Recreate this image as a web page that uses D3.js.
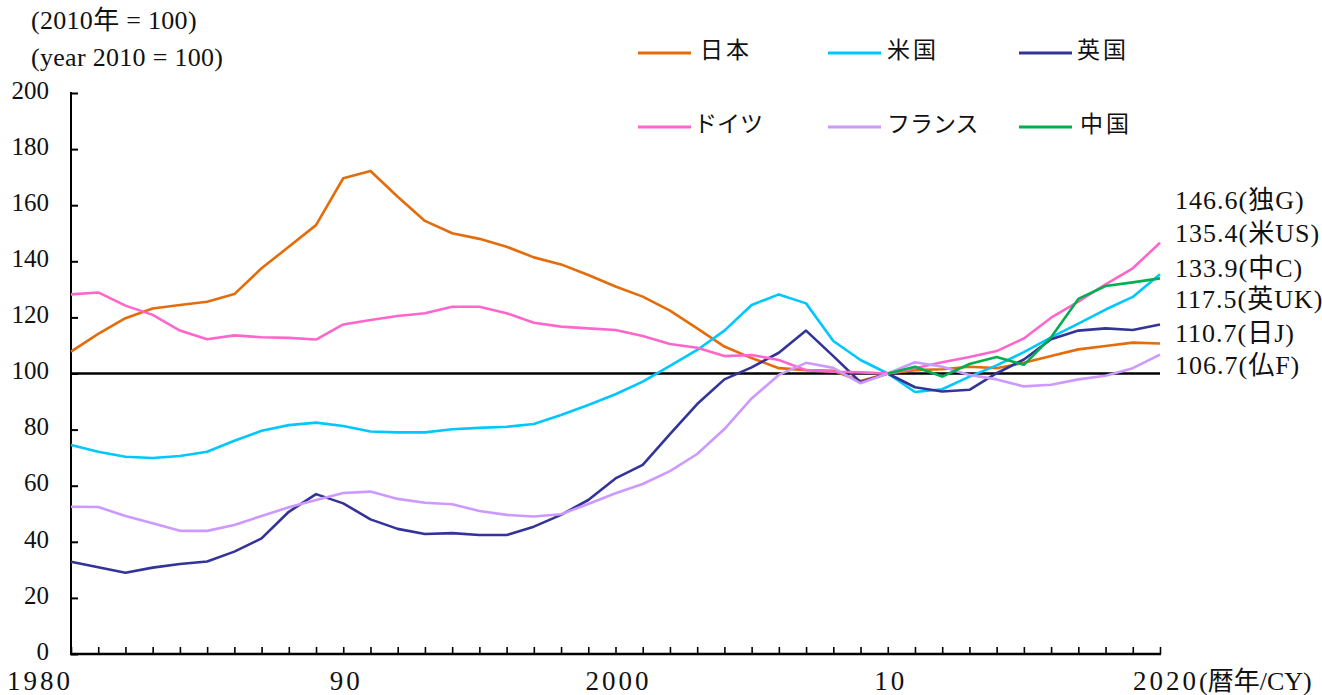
<!DOCTYPE html>
<html>
<head>
<meta charset="utf-8">
<script src="https://cdn.jsdelivr.net/npm/d3@7"></script>
<style>
  html, body { margin: 0; padding: 0; background: #fff; }
  svg { display: block; }
  text { font-family: "Liberation Serif", "Noto Sans CJK JP", serif; fill: #111; }
</style>
</head>
<body>
<svg id="chart" width="1322" height="695"></svg>
<script>
const years = d3.range(1980, 2021);
const japan = [107.8,114.1,119.7,123.2,124.4,125.6,128.3,137.5,145.2,152.9,
  169.6,172.2,163.0,154.4,150.0,148.0,145.2,141.4,138.9,135.1,
  131.0,127.4,122.4,116.1,109.6,105.5,101.9,101.2,101.0,97.3,
  100,101.2,101.5,102.4,101.9,103.8,106.2,108.6,109.8,111.0,110.7];
const us = [74.5,72.1,70.3,69.9,70.6,72.1,76.0,79.6,81.6,82.5,
  81.3,79.3,79.0,79.0,80.1,80.6,81.0,82.0,85.2,88.8,
  92.6,97.1,102.7,108.4,115.3,124.4,128.2,125.0,111.6,104.8,
  100,93.4,94.4,98.9,102.9,107.6,112.9,117.8,122.8,127.3,135.4];
const uk = [32.9,30.9,29.0,30.8,32.1,33.0,36.5,41.2,50.7,57.0,
  53.7,48.0,44.6,42.8,43.1,42.4,42.4,45.4,49.6,54.9,
  62.6,67.4,78.4,89.1,97.9,102.2,107.4,115.3,106.2,96.9,
  100,95.1,93.6,94.2,100.1,105.0,112.2,115.3,116.1,115.5,117.5];
const germany = [128.2,128.9,124.2,120.9,115.3,112.2,113.6,112.9,112.7,112.1,
  117.5,119.1,120.5,121.5,123.8,123.8,121.5,118.1,116.7,116.1,
  115.5,113.4,110.5,109.2,106.2,106.6,104.8,101.2,100.6,100.4,
  100,101.9,104.0,105.9,108.0,112.5,119.9,125.6,131.8,137.5,146.6];
const france = [52.5,52.4,49.2,46.6,43.9,43.9,46.0,49.2,52.3,54.9,
  57.4,57.9,55.3,53.9,53.4,51.0,49.6,49.0,49.8,53.5,
  57.3,60.6,65.2,71.3,80.2,91.1,99.5,103.8,102.0,96.5,
  100,104.0,102.4,99.5,97.9,95.4,96.0,97.9,99.2,101.9,106.7];
const chinaYears = d3.range(2010, 2021);
const china = [100,102.4,98.9,103.4,105.9,103.1,112.9,126.6,131.2,132.5,133.9];

const yTicks = [0,20,40,60,80,100,120,140,160,180,200];
const xTickLabels = [[1980,"1980"],[1990,"90"],[2000,"2000"],[2010,"10"]];
const endLabels = ["146.6(独G)","135.4(米US)","133.9(中C)","117.5(英UK)","110.7(日J)","106.7(仏F)"];

const series = [
  {name:"日本", color:"#E46C0A", x:years, v:japan},
  {name:"米国", color:"#00C8FF", x:years, v:us},
  {name:"英国", color:"#333399", x:years, v:uk},
  {name:"ドイツ", color:"#FF66CC", x:years, v:germany},
  {name:"フランス", color:"#CC99FF", x:years, v:france},
  {name:"中国", color:"#00B050", x:chinaYears, v:china}
];

const svg = d3.select("#chart");
const x = d3.scaleLinear().domain([1980, 2020]).range([71, 1160]);
const y = d3.scaleLinear().domain([0, 200]).range([654, 93]);

// header
svg.append("text").attr("x", 31).attr("y", 23).attr("dominant-baseline","middle")
  .style("font-size","26px").style("letter-spacing","0.3px").text("(2010年 = 100)");
svg.append("text").attr("x", 31).attr("y", 60).attr("dominant-baseline","middle")
  .style("font-size","26px").style("letter-spacing","0.3px").text("(year 2010 = 100)");

// y axis
const yAxis = d3.axisRight(y).tickValues(yTicks).tickSize(7).tickFormat("");
const gy = svg.append("g").attr("transform","translate(71,0)").call(yAxis);
gy.select(".domain").remove();
gy.selectAll(".tick line").attr("stroke","#000").attr("stroke-width",2);
svg.append("line").attr("x1",71).attr("x2",71).attr("y1",y(200)-1).attr("y2",y(0)+1)
  .attr("stroke","#000").attr("stroke-width",2);
svg.selectAll(".ylab").data(yTicks).enter().append("text")
  .attr("x", 49).attr("y", d => y(d)).attr("text-anchor","end")
  .attr("dominant-baseline","middle").style("font-size","25px").text(d => d);

// x axis
const xAxis = d3.axisTop(x).tickValues(years).tickSize(7).tickFormat("");
const gx = svg.append("g").attr("transform",`translate(0,${y(0)})`).call(xAxis);
gx.select(".domain").remove();
gx.selectAll(".tick line").attr("stroke","#000").attr("stroke-width",1.6);
svg.append("line").attr("x1",70).attr("x2",x(2020)+1).attr("y1",y(0)).attr("y2",y(0))
  .attr("stroke","#000").attr("stroke-width",2.5);
svg.selectAll(".xlab").data(xTickLabels).enter().append("text")
  .attr("x", d => d[0] === 1980 ? x(d[0]) + 2 : x(d[0]) + 3)
  .attr("y", 684).attr("text-anchor", d => d[0] === 1980 ? "end" : "middle")
  .attr("dominant-baseline","middle").style("font-size","27px").style("letter-spacing","3px")
  .text(d => d[1]);
const lastLab = svg.append("text").attr("x", 1133).attr("y", 684).attr("dominant-baseline","middle")
  .style("font-size","26px");
lastLab.append("tspan").style("font-size","27px").style("letter-spacing","3px").text("2020");
lastLab.append("tspan").text("(暦年/CY)");

// 100 line
svg.append("line").attr("x1",71).attr("x2",x(2020)).attr("y1",y(100)).attr("y2",y(100))
  .attr("stroke","#000").attr("stroke-width",2.5);

// series lines
const line = d3.line().x(d => x(d[0])).y(d => y(d[1]));
series.forEach(s => {
  svg.append("path").datum(s.x.map((yr,i) => [yr, s.v[i]]))
    .attr("d", line).attr("fill","none").attr("stroke", s.color)
    .attr("stroke-width", 2.6).attr("stroke-linejoin","round");
});

// end labels
const endLabelY = [203, 236, 271, 302, 336, 368];
svg.selectAll(".endlab").data(endLabels).enter().append("text")
  .attr("x", 1175).attr("y", (d,i) => endLabelY[i])
  .attr("dominant-baseline","middle").style("font-size","26px").style("letter-spacing","1px")
  .text(d => d);

// legend
const legendPos = [[638,53],[828,53],[1019,53],[638,127],[828,127],[1019,127]];
const legendTextX = [700,887,1077,694,887,1080];
series.forEach((s,i) => {
  const [lx, ly] = legendPos[i];
  svg.append("line").attr("x1",lx).attr("x2",lx+53).attr("y1",ly).attr("y2",ly)
    .attr("stroke", s.color).attr("stroke-width",3);
  svg.append("text").attr("x", legendTextX[i]).attr("y", ly).attr("dominant-baseline","middle")
    .style("font-size","23px").style("letter-spacing", s.name.length === 2 ? "3px" : "0px")
    .text(s.name);
});
</script>
</body>
</html>
